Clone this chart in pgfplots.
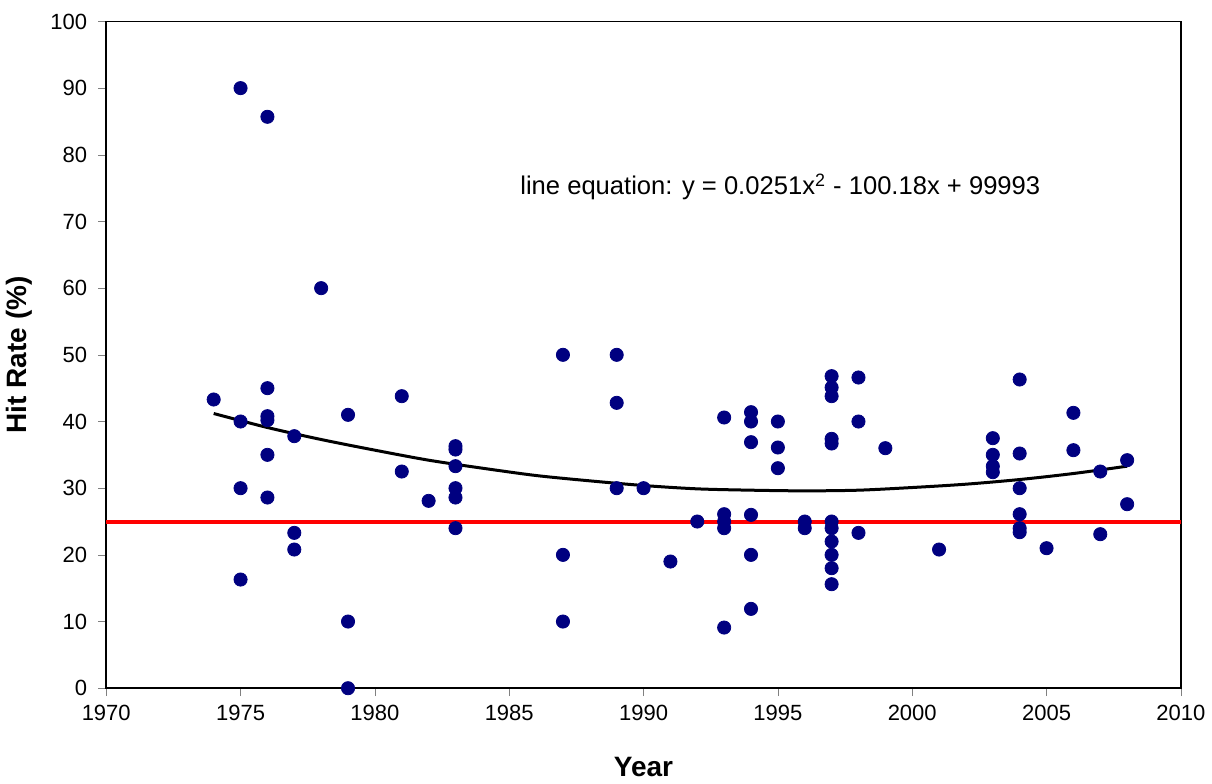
\documentclass[border={0pt 0pt 0pt 3.5pt}]{standalone}
\usepackage{pgfplots}
\pgfplotsset{compat=1.18}
\usepackage{fontspec}
\setmainfont{Liberation Sans}
\definecolor{dotblue}{RGB}{0,0,128}
\begin{document}
\begin{tikzpicture}
\begin{axis}[
  scale only axis,
  width=537.5pt, height=333.5pt,
  xmin=1970, xmax=2010, ymin=0, ymax=100,
  xtick={1970,1975,...,2010}, ytick={0,10,...,100},
  /pgf/number format/assume math mode=true,
  /pgf/number format/1000 sep={},
  tick label style={font=\fontsize{11}{13}\selectfont},
  yticklabel style={xshift=-2pt},
  xticklabel style={yshift=-1pt},
  tick align=outside, xtick pos=bottom, ytick pos=left,
  major tick length=4pt,
  axis line style={line width=0.8pt},
  xlabel={\bfseries Year}, ylabel={\bfseries Hit Rate (\%)},
  label style={font=\fontsize{14}{16}\selectfont},
  xlabel style={yshift=-11.5pt},
  ylabel style={yshift=2pt},
  clip=false,
]
\addplot[red, line width=2pt] coordinates {(1970,25) (2010,25)};
\addplot[only marks, mark=*, mark size=3.3pt, color=dotblue, fill=dotblue] coordinates {
(1974,43.3)
(1975,90) (1975,40) (1975,30) (1975,16.3)
(1976,85.7) (1976,45) (1976,40.8) (1976,40.2) (1976,35) (1976,28.6)
(1977,37.8) (1977,23.3) (1977,20.8)
(1978,60)
(1979,41) (1979,10) (1979,0)
(1981,43.8) (1981,32.5)
(1982,28.1)
(1983,36.3) (1983,35.8) (1983,33.3) (1983,30) (1983,28.6) (1983,24)
(1987,50) (1987,20) (1987,10)
(1989,50) (1989,42.8) (1989,30)
(1990,30)
(1991,19)
(1992,25)
(1993,40.6) (1993,26.1) (1993,25) (1993,24) (1993,9.1)
(1994,41.4) (1994,40) (1994,36.9) (1994,26) (1994,20) (1994,11.9)
(1995,40) (1995,36.1) (1995,33)
(1996,25) (1996,24)
(1997,46.8) (1997,45.1) (1997,43.8) (1997,37.4) (1997,36.7) (1997,25) (1997,24) (1997,22) (1997,20) (1997,18) (1997,15.6)
(1998,46.6) (1998,40) (1998,23.3)
(1999,36)
(2001,20.8)
(2003,37.5) (2003,35) (2003,33.3) (2003,32.4)
(2004,46.3) (2004,35.2) (2004,30) (2004,26.1) (2004,24) (2004,23.4)
(2005,21)
(2006,41.3) (2006,35.7)
(2007,32.5) (2007,23.1)
(2008,34.2) (2008,27.6)
};
\addplot[black, line width=1.5pt, smooth] coordinates {
(1974,41.2) (1976,39.1) (1978,37.3) (1980,35.7) (1982,34.2) (1984,33.0)
(1986,31.9) (1988,31.1) (1990,30.4) (1992,29.9) (1994,29.7) (1996,29.6)
(1998,29.7) (2000,30.1) (2002,30.6) (2004,31.3) (2006,32.2) (2008,33.3)
};
\node[anchor=west, font=\fontsize{12.8}{15}\selectfont, inner sep=0pt] at (axis cs:1985.4,75.2) {line equation: y = 0.0251x\textsuperscript{2} - 100.18x + 99993};
\end{axis}
\end{tikzpicture}
\end{document}
